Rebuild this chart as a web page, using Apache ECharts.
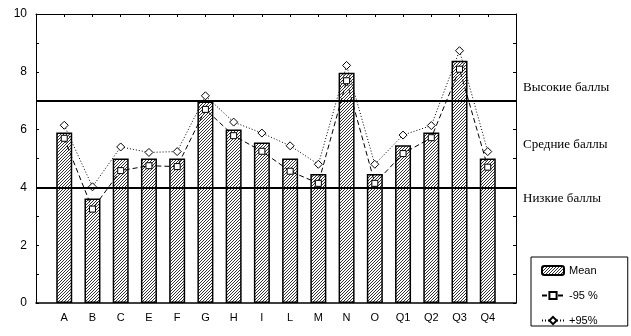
<!DOCTYPE html>
<html><head><meta charset="utf-8">
<script src="https://cdn.jsdelivr.net/npm/echarts@6/dist/echarts.min.js"></script>
<style>html,body{margin:0;padding:0;background:#fff}#c{width:631px;height:336px}</style>
</head><body><div id="c"></div>
<script>
const categories = ['A','B','C','E','F','G','H','I','L','M','N','O','Q1','Q2','Q3','Q4'];
const meanValues = [5.9,3.62,5.0,5.0,5.0,6.97,6.0,5.55,5.0,4.46,7.97,4.46,5.46,5.9,8.38,5.0];
const lower95 = [5.7,3.25,4.58,4.75,4.72,6.7,5.79,5.25,4.56,4.14,7.69,4.14,5.17,5.72,8.09,4.7];
const upper95 = [6.15,4.02,5.4,5.21,5.24,7.17,6.26,5.88,5.44,4.8,8.22,4.8,5.81,6.14,8.73,5.24];
const levelLines = [4,7];
const yTicks = [0,2,4,6,8,10];

const pc = document.createElement('canvas');
pc.width = 3; pc.height = 3;
const g = pc.getContext('2d');
g.fillStyle = '#fff'; g.fillRect(0,0,3,3);
g.strokeStyle = '#333'; g.lineWidth = 1;
g.beginPath(); g.moveTo(-1,4); g.lineTo(4,-1); g.stroke();
g.beginPath(); g.moveTo(-1,1); g.lineTo(1,-1); g.stroke();
g.beginPath(); g.moveTo(2,4); g.lineTo(4,2); g.stroke();

const chart = echarts.init(document.getElementById('c'));
const txt = {fontFamily:'Liberation Sans', fontSize:11, color:'#000'};
chart.setOption({
  animation:false,
  grid:{left:36,right:115,top:14,bottom:33},
  xAxis:[{type:'value',min:-1,max:16,interval:1,
    axisLine:{show:true,onZero:false,lineStyle:{color:'#000',width:1.5}},
    axisTick:{show:false},
    splitLine:{show:false},
    axisLabel:{...txt,margin:9,formatter:v=>categories[v]||''}},
   {type:'value',position:'top',min:-1,max:16,interval:1,
    axisLine:{show:true,onZero:false,lineStyle:{color:'#000'}},
    axisTick:{show:true,inside:true,length:3,lineStyle:{color:'#000'}},
    axisLabel:{show:false},splitLine:{show:false}}],
  yAxis:[{type:'value',min:0,max:10,interval:1,
    axisLine:{show:true,onZero:false,lineStyle:{color:'#000'}},
    axisTick:{show:true,inside:true,length:3,lineStyle:{color:'#000'}},
    splitLine:{show:false},
    axisLabel:{...txt,fontSize:12,margin:9,formatter:v=>yTicks.includes(v)?String(v):''}},
   {type:'value',position:'right',min:0,max:10,interval:1,
    axisLine:{show:true,onZero:false,lineStyle:{color:'#000'}},
    axisTick:{show:true,inside:true,length:3,lineStyle:{color:'#000'}},
    splitLine:{show:false},axisLabel:{show:false}}],
  legend:{orient:'vertical',left:531,top:257,itemWidth:22,itemHeight:9,itemGap:14,
    padding:[8,30,0,10],borderColor:'#000',borderWidth:1,
    textStyle:{...txt,fontSize:11},
    data:['Mean','-95 %','+95%']},
  series:[
    {name:'Mean',type:'bar',barWidth:16,
     data:meanValues.map((v,i)=>[i,v]),
     itemStyle:{color:{image:pc,repeat:'repeat'},borderColor:'#000',borderWidth:1.5},
     markLine:{silent:true,symbol:'none',label:{show:false},
       lineStyle:{color:'#000',width:2,type:'solid'},
       data:levelLines.map(v=>({yAxis:v}))},
     z:2},
    {name:'-95 %',type:'line',data:lower95.map((v,i)=>[i,v]),
     symbol:'rect',symbolSize:6,
     lineStyle:{color:'#000',width:1,type:[5,3]},
     itemStyle:{color:'#fff',borderColor:'#000',borderWidth:1},z:3},
    {name:'+95%',type:'line',data:upper95.map((v,i)=>[i,v]),
     symbol:'diamond',symbolSize:8,
     lineStyle:{color:'#000',width:1,type:[1,2]},
     itemStyle:{color:'#fff',borderColor:'#000',borderWidth:1},z:3}
  ],
  graphic:[
    {type:'text',left:523,top:81,style:{text:'Высокие баллы',font:'13px "Liberation Serif"',fill:'#000'}},
    {type:'text',left:523,top:138,style:{text:'Средние баллы',font:'13px "Liberation Serif"',fill:'#000'}},
    {type:'text',left:523,top:192,style:{text:'Низкие баллы',font:'13px "Liberation Serif"',fill:'#000'}}
  ]
});
</script></body></html>
